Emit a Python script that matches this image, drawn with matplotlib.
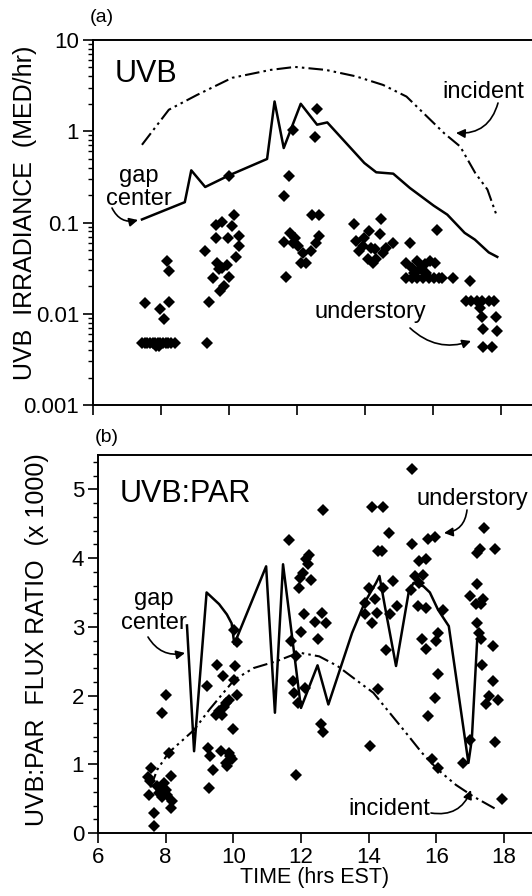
import numpy as np
import matplotlib
matplotlib.use("Agg")
import matplotlib.pyplot as plt
from matplotlib.ticker import LogLocator, MultipleLocator, NullFormatter

plt.rcParams['font.family'] = ['Liberation Sans', 'DejaVu Sans']

W, H = 532, 896

# ---- panel (a): UVB irradiance (MED/hr) ----
inc_a_t = [7.44, 8.23, 9.06, 10.09, 11.22, 11.94, 12.85, 13.73, 14.53, 15.22,
           16.33, 16.8, 17.24, 17.6, 17.88]
inc_a_v = [0.71, 1.72, 2.5, 3.85, 4.7, 5.07, 4.7, 4.0, 3.22, 2.4,
           0.95, 0.68, 0.35, 0.23, 0.117]

gap_a_t = [7.44, 8.70, 8.89, 9.30, 9.99, 11.12, 11.34, 11.61, 12.11, 12.59, 12.89,
           13.98, 14.33, 14.83, 15.32, 16.02, 16.42, 16.93, 17.23, 17.64, 17.89]
gap_a_v = [0.108, 0.167, 0.373, 0.245, 0.327, 0.497, 2.12, 0.655, 2.0, 1.18, 1.25,
           0.449, 0.355, 0.343, 0.239, 0.153, 0.122, 0.077, 0.065, 0.047, 0.042]

und_a_t = [8.18, 8.23, 7.52, 7.98, 8.08, 8.23,
           7.45, 7.52, 7.6, 7.68, 7.75, 7.82, 7.9, 7.98, 8.06, 8.14, 8.22, 8.3, 8.4, 7.85, 7.95,
           9.28, 9.42, 9.35, 9.62, 9.79, 10.14, 10.09, 9.96, 9.62, 10.30, 10.30, 10.20,
           9.65, 9.79, 9.94, 9.70, 9.52, 9.99, 9.84, 9.74, 9.99,
           11.61, 11.75, 11.89, 12.59, 12.52, 11.67, 11.63, 11.79, 11.94, 12.04, 12.19,
           12.25, 12.12, 12.40, 12.45, 12.66, 12.66, 12.55, 11.89,
           13.68, 13.73, 13.83, 13.98, 14.13, 14.08, 14.23, 14.28, 14.33, 14.43, 14.48,
           14.53, 14.63, 14.83, 13.93, 14.18,
           15.32, 16.12, 15.22, 15.37, 15.52, 15.62, 15.77, 15.92, 16.07,
           15.22, 15.37, 15.52, 15.72, 15.87, 16.02, 16.17, 16.27, 16.58, 15.45, 15.8,
           17.08, 16.98, 17.13, 17.28, 17.43, 17.64, 17.79, 17.38, 17.43, 17.84,
           17.48, 17.89, 17.48, 17.74]
und_a_v = [0.0378, 0.0294, 0.0132, 0.0114, 0.0087, 0.0134,
           0.0048, 0.0048, 0.0048, 0.0048, 0.0048, 0.0048, 0.0048, 0.0048, 0.0048, 0.0048,
           0.0048, 0.0048, 0.0048, 0.0044, 0.0044,
           0.0486, 0.0135, 0.0048, 0.095, 0.1007, 0.122, 0.091, 0.067, 0.067, 0.072, 0.055,
           0.042, 0.0363, 0.032, 0.034, 0.0306, 0.0249, 0.0252, 0.0201, 0.0177, 0.32,
           0.194, 0.326, 1.04, 1.75, 0.865, 0.0252, 0.061, 0.077, 0.068, 0.055, 0.0467,
           0.0363, 0.0363, 0.0486, 0.122, 0.122, 0.071, 0.060, 0.060,
           0.0975, 0.0625, 0.0486, 0.068, 0.080, 0.0395, 0.0363, 0.0507, 0.0395, 0.074,
           0.108, 0.0467, 0.0528, 0.060, 0.055, 0.0528,
           0.060, 0.0838, 0.0363, 0.032, 0.0378, 0.0306, 0.0347, 0.0378, 0.0363,
           0.0249, 0.0249, 0.0249, 0.0249, 0.0249, 0.0249, 0.0249, 0.0249, 0.0249,
           0.028, 0.028,
           0.0229, 0.0138, 0.0138, 0.0138, 0.0138, 0.0138, 0.0138, 0.0117, 0.0091, 0.0091,
           0.0068, 0.0065, 0.0043, 0.0043]

# ---- panel (b): UVB:PAR flux ratio (x 1000) ----
inc_b_t = [7.55, 7.75, 8.09, 8.5, 8.84, 9.3, 10.03, 10.6, 11.28, 11.7, 12.0, 12.54,
           13.08, 13.62, 14.14, 14.62, 15.10, 15.57, 16.05, 16.58, 17.10, 17.79]
inc_b_v = [0.66, 0.92, 1.17, 1.35, 1.50, 1.80, 2.23, 2.40, 2.50, 2.58, 2.62, 2.57,
           2.43, 2.23, 2.04, 1.75, 1.46, 1.17, 0.92, 0.70, 0.53, 0.34]

gap_b_t = [8.63, 8.84, 9.21, 9.58, 9.81, 9.95, 10.03, 10.97, 11.23, 11.47, 12.0, 12.49,
           12.81, 13.51, 13.89, 14.22, 14.32, 14.48, 14.81, 15.19, 15.33, 15.62, 15.81,
           16.05, 16.37, 16.95, 17.05, 17.21]
gap_b_v = [3.02, 1.19, 3.50, 3.33, 3.18, 3.05, 2.75, 3.88, 1.75, 3.91, 1.82, 2.44,
           1.87, 2.91, 3.36, 3.64, 3.74, 3.30, 2.43, 3.52, 3.64, 3.59, 3.50,
           3.25, 3.01, 1.02, 1.36, 2.82]

und_b_t = [7.48, 7.58, 7.5, 7.65, 7.65, 7.55, 7.75, 7.8, 7.9, 7.95, 8.0, 8.05, 7.88,
           8.09, 8.17, 8.2, 8.17, 7.9, 8.0, 7.85, 7.95,
           9.21, 9.51, 9.69, 10.06, 10.02, 10.11, 9.86, 9.72, 9.58, 9.49, 9.66, 9.77,
           10.0, 10.01, 10.12, 9.26, 9.3, 9.4, 9.28, 9.63, 9.86, 9.95, 9.81, 9.9, 9.77,
           11.65, 12.65, 12.24, 12.16, 12.2, 12.05, 11.97, 11.95, 12.3, 12.08, 12.41,
           12.63, 12.74, 12.0, 12.49, 11.7, 11.86, 11.76, 11.79, 11.91, 12.11, 12.6,
           12.65, 11.86,
           14.1, 14.43, 14.6, 14.29, 14.41, 14.0, 13.89, 14.19, 14.24, 14.1, 13.89,
           14.43, 14.72, 14.62, 14.52, 14.29, 14.05, 14.83,
           15.27, 15.27, 15.76, 15.95, 15.48, 15.71, 15.62, 15.36, 15.24, 15.48, 15.46,
           15.69, 15.57, 15.71, 16.05, 16.0, 16.05, 15.95, 15.76, 15.86, 16.05, 16.19,
           17.42, 17.74, 17.21, 17.29, 17.0, 17.21, 17.32, 17.37, 17.16, 17.21, 17.26,
           17.32, 17.34, 17.68, 17.68, 17.55, 17.47, 17.82, 17.74, 17.0, 16.79, 17.95]
und_b_v = [0.82, 0.95, 0.56, 0.29, 0.10, 0.75, 0.68, 0.58, 0.66, 0.73, 0.63, 0.56, 0.53,
           1.17, 0.83, 0.46, 0.36, 1.75, 2.01, 0.62, 0.58,
           2.14, 2.45, 2.28, 2.43, 2.23, 2.01, 1.94, 1.84, 1.77, 1.72, 1.72, 1.89,
           1.51, 2.95, 2.78, 1.24, 1.12, 0.92, 0.66, 1.19, 1.17, 1.07, 0.97, 1.12, 1.02,
           4.26, 4.70, 4.05, 3.99, 3.91, 3.79, 3.71, 3.57, 3.68, 3.18, 3.07,
           3.20, 3.06, 2.92, 2.83, 2.79, 2.57, 2.21, 2.04, 1.89, 2.11, 1.58,
           1.47, 0.85,
           4.74, 4.74, 4.36, 4.10, 4.10, 3.57, 3.35, 3.40, 3.20, 3.06, 3.18,
           3.57, 3.67, 3.18, 2.66, 2.10, 1.26, 3.31,
           5.30, 4.20, 4.28, 4.30, 3.96, 3.98, 3.76, 3.74, 3.54, 3.64, 3.30,
           3.28, 2.82, 2.67, 2.91, 2.79, 2.31, 1.97, 1.70, 1.07, 0.95, 3.25,
           4.44, 4.13, 4.08, 4.13, 3.45, 3.62, 3.33, 3.40, 3.33, 3.06, 2.91,
           2.82, 2.45, 2.72, 2.21, 1.99, 1.87, 1.94, 1.33, 1.36, 1.02, 0.49]

a_yticks = [0.001, 0.01, 0.1, 1, 10]
a_yticklabels = ['0.001', '0.01', '0.1', '1', '10']
b_yticks = [0, 1, 2, 3, 4, 5]
x_ticks = [6, 8, 10, 12, 14, 16, 18]

INC_DASH = (0, (7, 2, 1.2, 2, 1.2, 2))


def fp(px, py):
    """reference pixel -> figure fraction"""
    return (px / W, 1 - py / H)


def style_axis(ax):
    for s in ax.spines.values():
        s.set_linewidth(1.4)
    ax.spines['right'].set_visible(False)
    ax.tick_params(which='major', direction='out', length=7, width=1.2,
                   labelsize=16, pad=3)
    ax.tick_params(which='minor', direction='out', length=3.6, width=1.0)


fig = plt.figure(figsize=(W / 100, H / 100), dpi=100)

# panel (a)
ax1 = fig.add_axes([93 / W, (H - 405) / H, 476 / W, 365 / H])
ax1.set_yscale('log')
ax1.set_xlim(6, 20)
ax1.set_ylim(0.001, 10)
ax1.plot(inc_a_t, inc_a_v, color='k', lw=1.5, linestyle=INC_DASH)
ax1.plot(gap_a_t, gap_a_v, color='k', lw=1.8)
ax1.plot(und_a_t, und_a_v, 'D', color='k', ms=5.9, mew=0)
ax1.set_yticks(a_yticks)
ax1.set_yticklabels(a_yticklabels)
ax1.yaxis.set_minor_locator(LogLocator(base=10, subs=np.arange(2, 10)))
ax1.yaxis.set_minor_formatter(NullFormatter())
ax1.set_xticks(x_ticks)
ax1.set_xticklabels([])
style_axis(ax1)

# panel (b)
ax2 = fig.add_axes([98 / W, (H - 833) / H, 473.6 / W, 378 / H])
ax2.set_xlim(6, 20)
ax2.set_ylim(0, 5.5)
ax2.plot(inc_b_t, inc_b_v, color='k', lw=1.5, linestyle=INC_DASH)
ax2.plot(gap_b_t, gap_b_v, color='k', lw=1.8)
ax2.plot(und_b_t, und_b_v, 'D', color='k', ms=5.9, mew=0)
ax2.set_yticks(b_yticks)
ax2.yaxis.set_minor_locator(MultipleLocator(0.2))
ax2.set_xticks(x_ticks)
style_axis(ax2)

# texts
fig.text(*fp(90, 17), '(a)', fontsize=14, ha='left', va='center')
fig.text(*fp(95, 437), '(b)', fontsize=14, ha='left', va='center')
fig.text(*fp(115, 82), 'UVB', fontsize=22, ha='left', va='baseline')
fig.text(*fp(120, 502), 'UVB:PAR', fontsize=22, ha='left', va='baseline')

fig.text(*fp(25, 213), 'UVB  IRRADIANCE  (MED/hr)', fontsize=18, rotation=90,
         ha='center', va='center')
fig.text(*fp(37, 640), 'UVB:PAR  FLUX RATIO  (x 1000)', fontsize=18, rotation=90,
         ha='center', va='center')
fig.text(*fp(315, 883), 'TIME (hrs EST)', fontsize=15.5, ha='center', va='baseline')

lab = dict(fontsize=17, va='baseline')
fig.text(*fp(442, 98), 'incident', ha='left', **lab)
fig.text(*fp(139, 182), 'gap', ha='center', **lab)
fig.text(*fp(139, 205), 'center', ha='center', **lab)
fig.text(*fp(314, 318), 'understory', ha='left', **lab)

fig.text(*fp(416, 505), 'understory', ha='left', **lab)
fig.text(*fp(154, 605), 'gap', ha='center', **lab)
fig.text(*fp(154, 629), 'center', ha='center', **lab)
fig.text(*fp(348, 815), 'incident', ha='left', **lab)


def arrow(start, end, rad):
    fig.add_artist(matplotlib.patches.FancyArrowPatch(
        fp(*start), fp(*end), transform=fig.transFigure,
        arrowstyle='-|>', mutation_scale=13, lw=1.2, color='k',
        connectionstyle=f'arc3,rad={rad}', shrinkA=0, shrinkB=0))


arrow((112, 208), (138, 220), 0.4)
arrow((498, 103), (456, 133), -0.4)
arrow((410, 328), (471, 341), 0.3)
arrow((467, 510), (444, 533), -0.4)
arrow((148, 637), (185, 653), 0.35)
arrow((431, 813), (471, 790), 0.4)

fig.savefig('out.png', dpi=100)
